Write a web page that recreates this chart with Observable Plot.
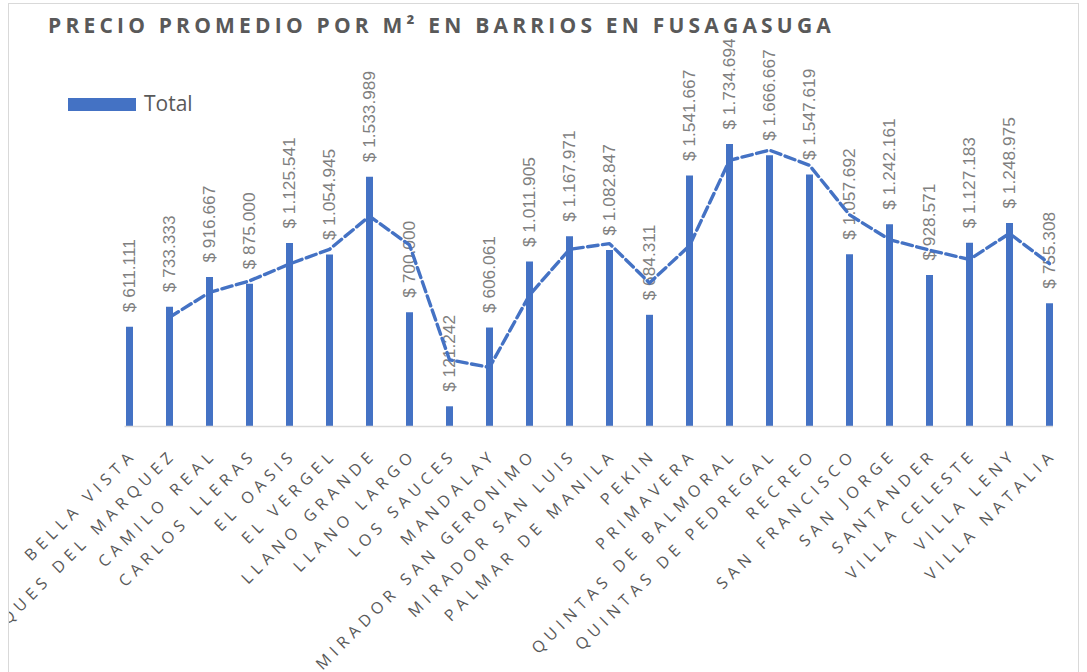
<!DOCTYPE html>
<html>
<head>
<meta charset="utf-8">
<script src="https://cdn.jsdelivr.net/npm/d3@7"></script>
<script src="https://cdn.jsdelivr.net/npm/@observablehq/plot@0.6"></script>
<style>
  html, body { margin: 0; padding: 0; background: #fff; }
  #box { position: absolute; left: 8px; top: 3px; width: 1071px; height: 720px; border: 1px solid #d9d9d9; box-sizing: border-box; overflow: hidden; }
  #inner { position: absolute; left: -9px; top: -4px; width: 1087px; height: 672px; }
  #chart { position: absolute; left: 0; top: 0; }
  #title { position: absolute; left: 48px; top: 14.7px; margin: 0; font-family: "Open Sans", sans-serif; font-weight: 700; font-size: 21px; line-height: 21px; letter-spacing: 4.2px; color: #595959; white-space: nowrap; }
  #legend { position: absolute; left: 68px; top: 93px; height: 21px; font-family: "Open Sans", sans-serif; font-size: 21px; line-height: 21px; color: #595959; white-space: nowrap; }
  #legend .sw { position: absolute; left: 0; top: 5px; width: 68px; height: 13px; background: #4472C4; }
  #legend .lb { position: absolute; left: 76px; top: 0; }
  text.xlab { letter-spacing: 5.3px; }
</style>
</head>
<body>
<div id="box">
  <div id="inner">
    <div id="chart"></div>
    <h1 id="title">PRECIO PROMEDIO POR M² EN BARRIOS EN FUSAGASUGA</h1>
    <div id="legend"><span class="sw"></span><span class="lb">Total</span></div>
  </div>
</div>
<script>
const barrios = [
  "BELLA VISTA", "PARQUES DEL MARQUEZ", "CAMILO REAL", "CARLOS LLERAS", "EL OASIS",
  "EL VERGEL", "LLANO GRANDE", "LLANO LARGO", "LOS SAUCES", "MANDALAY",
  "MIRADOR SAN GERONIMO", "MIRADOR SAN LUIS", "PALMAR DE MANILA", "PEKIN", "PRIMAVERA",
  "QUINTAS DE BALMORAL", "QUINTAS DE PEDREGAL", "RECREO", "SAN FRANCISCO", "SAN JORGE",
  "SANTANDER", "VILLA CELESTE", "VILLA LENY", "VILLA NATALIA"
];
const precios = [
  611111, 733333, 916667, 875000, 1125541,
  1054945, 1533989, 700000, 121242, 606061,
  1011905, 1167971, 1082847, 684311, 1541667,
  1734694, 1666667, 1547619, 1057692, 1242161,
  928571, 1127183, 1248975, 755308
];

const data = barrios.map((name, i) => ({name, value: precios[i]}));
const fmt = v => "$ " + d3.format(",")(v).replace(/,/g, ".");

const blue = "#4472C4";
const svg = Plot.plot({
  width: 1087,
  height: 672,
  marginTop: 101,
  marginBottom: 246,
  marginLeft: 124.5,
  marginRight: 34,
  style: {background: "transparent", overflow: "visible"},
  x: {type: "point", domain: barrios, padding: 0, axis: null},
  y: {domain: [0, 2000000], axis: null},
  marks: [
    Plot.ruleX(data, {x: "name", y1: 0, y2: "value", stroke: blue, strokeWidth: 7, clip: true}),
    Plot.ruleY([0], {stroke: "#d9d9d9", strokeWidth: 1.5}),
    Plot.text(data, {
      x: "name", y: "value", text: d => fmt(d.value),
      rotate: -90, textAnchor: "start", lineAnchor: "middle", dy: -15,
      fontSize: 17.3, fill: "#7f7f7f", fontFamily: "Liberation Sans, Arial, sans-serif"
    }),
    Plot.lineY(data, Plot.windowY({k: 2, anchor: "end", reduce: "mean", strict: true},
      {x: "name", y: "value", stroke: blue, strokeWidth: 3.4, strokeDasharray: "10.5,4.5"})),
    Plot.text(barrios, {
      x: d => d, y: () => 0, text: d => d,
      rotate: -45, textAnchor: "end", lineAnchor: "top",
      dx: 0, dy: 21,
      fontSize: 16, fill: "#595959", fontFamily: "Open Sans, sans-serif"
    })
  ]
});
svg.querySelectorAll("text").forEach(t => {
  const tr = t.getAttribute("transform") || "";
  if (tr.includes("rotate(-45)")) t.setAttribute("class", "xlab");
});
document.getElementById("chart").appendChild(svg);
</script>
</body>
</html>
